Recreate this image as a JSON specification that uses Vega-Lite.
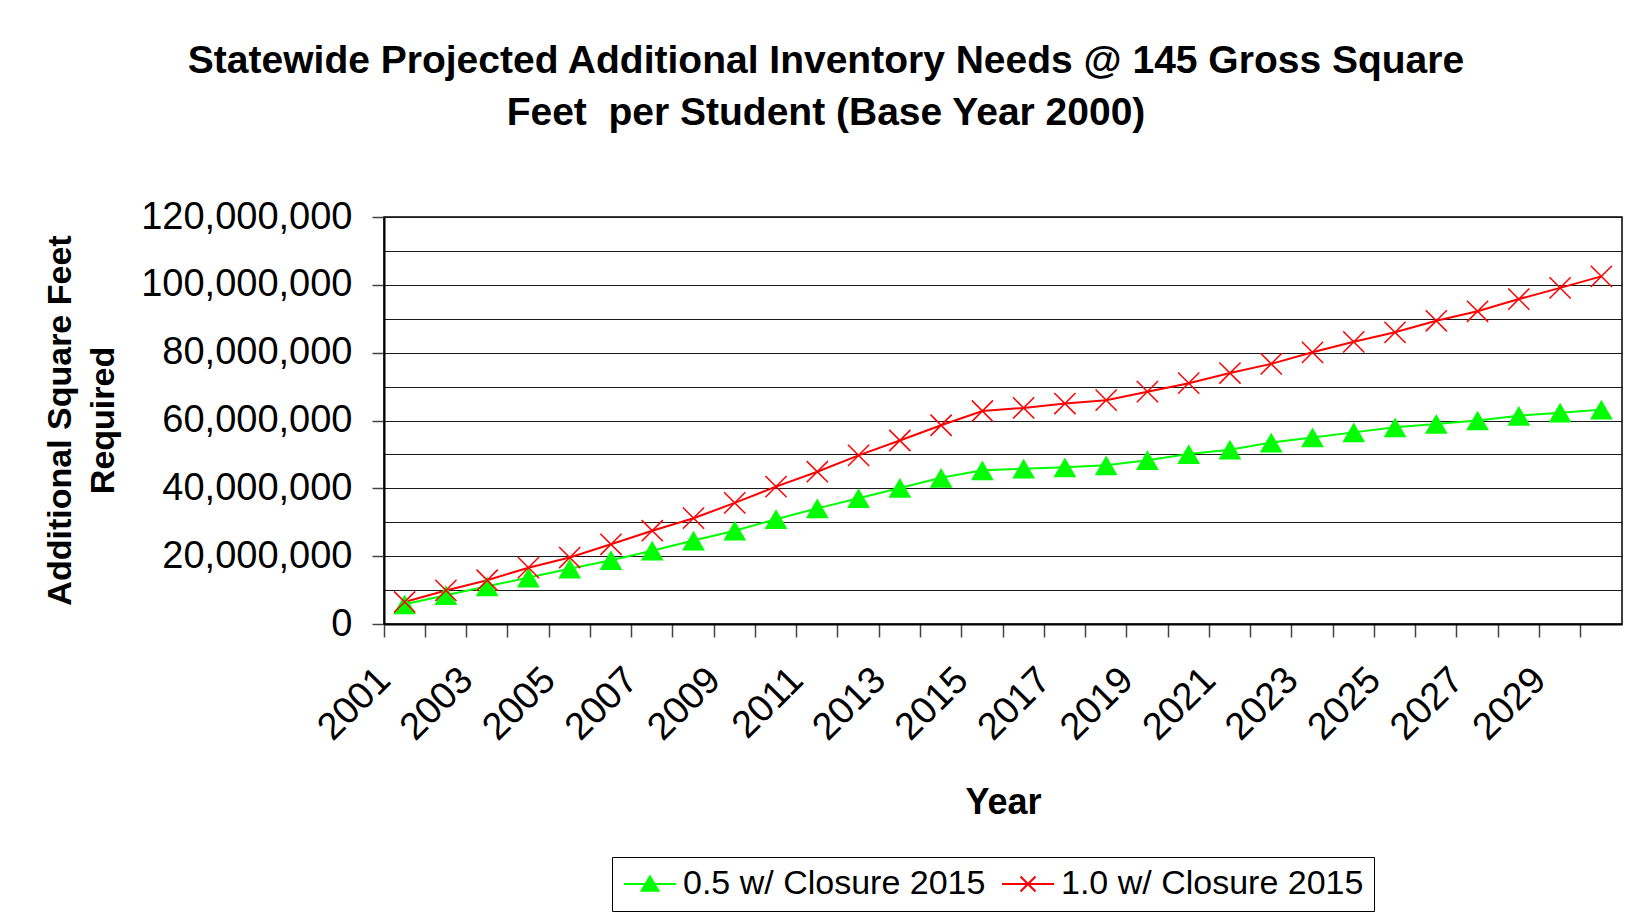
{
  "$schema": "https://vega.github.io/schema/vega-lite/v6.json",
  "width": 1238,
  "height": 407,
  "autosize": {"type": "none"},
  "padding": {"left": 384, "top": 217, "right": 11, "bottom": 292},
  "background": "white",
  "title": {
    "text": ["Statewide Projected Additional Inventory Needs @ 145 Gross Square", "Feet \u00a0per Student (Base Year 2000)"],
    "font": "Liberation Sans",
    "fontSize": 39,
    "fontWeight": "bold",
    "color": "black",
    "lineHeight": 52,
    "anchor": "middle",
    "frame": "group",
    "dx": -177,
    "offset": 65
  },
  "data": {
    "values": [
      {"year": 2001, "series": "0.5 w/ Closure 2015", "value": 5800000},
      {"year": 2002, "series": "0.5 w/ Closure 2015", "value": 8500000},
      {"year": 2003, "series": "0.5 w/ Closure 2015", "value": 11100000},
      {"year": 2004, "series": "0.5 w/ Closure 2015", "value": 13700000},
      {"year": 2005, "series": "0.5 w/ Closure 2015", "value": 16300000},
      {"year": 2006, "series": "0.5 w/ Closure 2015", "value": 18800000},
      {"year": 2007, "series": "0.5 w/ Closure 2015", "value": 21600000},
      {"year": 2008, "series": "0.5 w/ Closure 2015", "value": 24600000},
      {"year": 2009, "series": "0.5 w/ Closure 2015", "value": 27500000},
      {"year": 2010, "series": "0.5 w/ Closure 2015", "value": 30900000},
      {"year": 2011, "series": "0.5 w/ Closure 2015", "value": 34100000},
      {"year": 2012, "series": "0.5 w/ Closure 2015", "value": 37100000},
      {"year": 2013, "series": "0.5 w/ Closure 2015", "value": 40100000},
      {"year": 2014, "series": "0.5 w/ Closure 2015", "value": 43100000},
      {"year": 2015, "series": "0.5 w/ Closure 2015", "value": 45300000},
      {"year": 2016, "series": "0.5 w/ Closure 2015", "value": 45800000},
      {"year": 2017, "series": "0.5 w/ Closure 2015", "value": 46200000},
      {"year": 2018, "series": "0.5 w/ Closure 2015", "value": 46800000},
      {"year": 2019, "series": "0.5 w/ Closure 2015", "value": 48300000},
      {"year": 2020, "series": "0.5 w/ Closure 2015", "value": 50100000},
      {"year": 2021, "series": "0.5 w/ Closure 2015", "value": 51400000},
      {"year": 2022, "series": "0.5 w/ Closure 2015", "value": 53500000},
      {"year": 2023, "series": "0.5 w/ Closure 2015", "value": 55000000},
      {"year": 2024, "series": "0.5 w/ Closure 2015", "value": 56500000},
      {"year": 2025, "series": "0.5 w/ Closure 2015", "value": 58000000},
      {"year": 2026, "series": "0.5 w/ Closure 2015", "value": 59000000},
      {"year": 2027, "series": "0.5 w/ Closure 2015", "value": 60000000},
      {"year": 2028, "series": "0.5 w/ Closure 2015", "value": 61400000},
      {"year": 2029, "series": "0.5 w/ Closure 2015", "value": 62300000},
      {"year": 2030, "series": "0.5 w/ Closure 2015", "value": 63200000},
      {"year": 2001, "series": "1.0 w/ Closure 2015", "value": 6500000},
      {"year": 2002, "series": "1.0 w/ Closure 2015", "value": 9900000},
      {"year": 2003, "series": "1.0 w/ Closure 2015", "value": 12900000},
      {"year": 2004, "series": "1.0 w/ Closure 2015", "value": 16600000},
      {"year": 2005, "series": "1.0 w/ Closure 2015", "value": 19600000},
      {"year": 2006, "series": "1.0 w/ Closure 2015", "value": 23500000},
      {"year": 2007, "series": "1.0 w/ Closure 2015", "value": 27500000},
      {"year": 2008, "series": "1.0 w/ Closure 2015", "value": 31200000},
      {"year": 2009, "series": "1.0 w/ Closure 2015", "value": 35700000},
      {"year": 2010, "series": "1.0 w/ Closure 2015", "value": 40500000},
      {"year": 2011, "series": "1.0 w/ Closure 2015", "value": 44900000},
      {"year": 2012, "series": "1.0 w/ Closure 2015", "value": 49700000},
      {"year": 2013, "series": "1.0 w/ Closure 2015", "value": 54100000},
      {"year": 2014, "series": "1.0 w/ Closure 2015", "value": 58600000},
      {"year": 2015, "series": "1.0 w/ Closure 2015", "value": 62800000},
      {"year": 2016, "series": "1.0 w/ Closure 2015", "value": 63700000},
      {"year": 2017, "series": "1.0 w/ Closure 2015", "value": 65000000},
      {"year": 2018, "series": "1.0 w/ Closure 2015", "value": 66000000},
      {"year": 2019, "series": "1.0 w/ Closure 2015", "value": 68500000},
      {"year": 2020, "series": "1.0 w/ Closure 2015", "value": 71000000},
      {"year": 2021, "series": "1.0 w/ Closure 2015", "value": 74000000},
      {"year": 2022, "series": "1.0 w/ Closure 2015", "value": 76700000},
      {"year": 2023, "series": "1.0 w/ Closure 2015", "value": 80100000},
      {"year": 2024, "series": "1.0 w/ Closure 2015", "value": 83200000},
      {"year": 2025, "series": "1.0 w/ Closure 2015", "value": 86000000},
      {"year": 2026, "series": "1.0 w/ Closure 2015", "value": 89400000},
      {"year": 2027, "series": "1.0 w/ Closure 2015", "value": 92200000},
      {"year": 2028, "series": "1.0 w/ Closure 2015", "value": 95800000},
      {"year": 2029, "series": "1.0 w/ Closure 2015", "value": 99100000},
      {"year": 2030, "series": "1.0 w/ Closure 2015", "value": 102500000}
    ]
  },
  "encoding": {
    "x": {
      "field": "year",
      "type": "ordinal",
      "scale": {"type": "band", "paddingInner": 0, "paddingOuter": 0},
      "axis": {
        "title": "Year",
        "titleFont": "Liberation Sans",
        "titleFontSize": 36,
        "titleFontWeight": "bold",
        "titleColor": "black",
        "titleBaseline": "alphabetic",
        "titleY": 189,
        "bandPosition": 0,
        "labelExpr": "datum.value % 2 === 1 ? datum.label : ''",
        "labelOverlap": false,
        "labelAngle": -45,
        "labelAlign": "right",
        "labelBaseline": "middle",
        "labelOffset": -20,
        "labelPadding": 37,
        "labelFont": "Liberation Sans",
        "labelFontSize": 38,
        "labelColor": "black",
        "tickSize": 13,
        "tickColor": "#444",
        "tickWidth": 1.5,
        "domainColor": "black",
        "domainWidth": 2,
        "grid": false
      }
    },
    "y": {
      "field": "value",
      "type": "quantitative",
      "scale": {"domain": [0, 120000000], "nice": false},
      "axis": {
        "title": ["Additional Square Feet", "Required"],
        "titleFont": "Liberation Sans",
        "titleFontSize": 34,
        "titleFontWeight": "bold",
        "titleColor": "black",
        "titleLineHeight": 43,
        "titleAngle": 270,
        "titleBaseline": "bottom",
        "titleX": -307,
        "titleY": 203,
        "values": [0, 10000000, 20000000, 30000000, 40000000, 50000000, 60000000, 70000000, 80000000, 90000000, 100000000, 110000000, 120000000],
        "labelExpr": "datum.value % 20000000 === 0 ? format(datum.value, ',') : ''",
        "labelFont": "Liberation Sans",
        "labelFontSize": 38,
        "labelColor": "black",
        "labelLimit": 400,
        "labelPadding": 20,
        "tickSize": 12,
        "tickColor": "#444",
        "tickWidth": 1.5,
        "tickOpacity": {"condition": {"test": "datum.value % 20000000 !== 0", "value": 0}, "value": 1},
        "domainColor": "black",
        "domainWidth": 2,
        "grid": true,
        "gridColor": "#1a1a1a",
        "gridWidth": 1.2
      }
    }
  },
  "layer": [
    {
      "transform": [{"filter": "datum.series === '0.5 w/ Closure 2015'"}],
      "mark": {"type": "line", "strokeWidth": 2, "color": "#00FF00"},
      "encoding": {}
    },
    {
      "transform": [{"filter": "datum.series === '1.0 w/ Closure 2015'"}],
      "mark": {"type": "line", "strokeWidth": 2, "color": "#FF0000"},
      "encoding": {}
    },
    {
      "transform": [{"filter": "datum.series === '0.5 w/ Closure 2015'"}],
      "mark": {"type": "point", "shape": "triangle-up", "filled": true, "color": "#00FF00", "size": 520, "opacity": 1},
      "encoding": {}
    },
    {
      "transform": [{"filter": "datum.series === '1.0 w/ Closure 2015'"}],
      "mark": {"type": "point", "shape": "M-1,-1L1,1M-1,1L1,-1", "filled": false, "color": "#FF0000", "strokeWidth": 1.5, "size": 450, "opacity": 1},
      "encoding": {}
    },
    {
      "transform": [{"filter": "datum.year === 2001"}],
      "mark": {"type": "point", "filled": true, "opacity": 0, "strokeWidth": 2},
      "encoding": {
        "shape": {
          "field": "series",
          "type": "nominal",
          "scale": {"domain": ["0.5 w/ Closure 2015", "1.0 w/ Closure 2015"], "range": ["M-1,0H2.47M0.733,-0.5L1.3,0.45L0.167,0.45Z", "M-1,0H2.47M0.233,-0.5L1.233,0.5M0.233,0.5L1.233,-0.5"]},
          "legend": {
            "orient": "none",
            "legendX": 228,
            "legendY": 640,
            "direction": "horizontal",
            "title": null,
            "strokeColor": "black",
            "padding": 10,
            "symbolSize": 900,
            "symbolOpacity": 1,
            "symbolStrokeWidth": 2,
            "labelFont": "Liberation Sans",
            "labelFontSize": 34,
            "labelColor": "black",
            "labelOffset": 27,
            "columnPadding": 12,
            "labelLimit": 500
          }
        },
        "fill": {
          "field": "series",
          "type": "nominal",
          "scale": {"domain": ["0.5 w/ Closure 2015", "1.0 w/ Closure 2015"], "range": ["#00FF00", "#FF0000"]}
        },
        "stroke": {
          "field": "series",
          "type": "nominal",
          "scale": {"domain": ["0.5 w/ Closure 2015", "1.0 w/ Closure 2015"], "range": ["#00FF00", "#FF0000"]}
        }
      }
    }
  ],
  "config": {
    "view": {"stroke": "black", "strokeWidth": 1.5},
    "legend": {
      "orient": "none",
      "legendX": 228,
      "legendY": 640,
      "direction": "horizontal",
      "title": null,
      "strokeColor": "black",
      "padding": 10,
      "symbolSize": 900,
      "symbolOpacity": 1,
      "symbolStrokeWidth": 2,
      "labelFont": "Liberation Sans",
      "labelFontSize": 34,
      "labelColor": "black",
      "labelOffset": 27,
      "columnPadding": 12,
      "labelLimit": 500
    }
  }
}
